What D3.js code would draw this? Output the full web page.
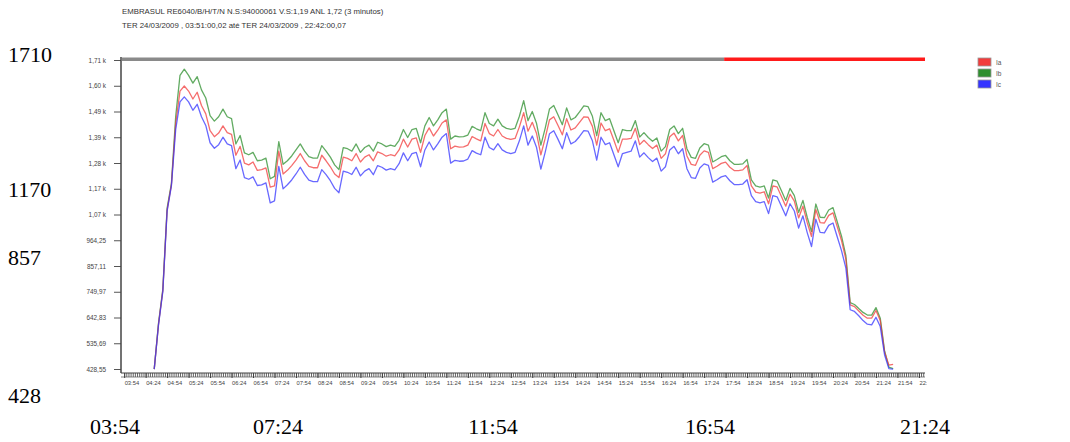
<!DOCTYPE html>
<html>
<head>
<meta charset="utf-8">
<script src="https://cdn.jsdelivr.net/npm/d3@7"></script>
<style>
body { margin: 0; background: #fff; }
</style>
</head>
<body>
<div id="chart"></div>
<script>
var titleLines = [
  "EMBRASUL RE6040/B/H/T/N N.S:94000061  V.S:1,19 ANL 1,72 (3 minutos)",
  "TER 24/03/2009 , 03:51:00,02 até TER 24/03/2009 , 22:42:00,07"
];
var seriesNames = ["Ia", "Ib", "Ic"];

// readings every 6 minutes starting 04:36
var startTime = "04:36", stepMinutes = 6;
var ib = [428,620,760,1098,1200,1480,1650,1676,1650,1618,
1645,1590,1556,1483,1460,1478,1510,1478,1470,1365,
1400,1328,1320,1330,1295,1298,1306,1220,1230,1375,
1280,1295,1315,1340,1365,1335,1312,1306,1306,1358,
1335,1310,1278,1258,1350,1345,1335,1365,1330,1350,
1360,1335,1372,1365,1354,1360,1355,1380,1425,1392,
1425,1430,1370,1440,1475,1440,1465,1495,1510,1385,
1398,1394,1395,1402,1438,1428,1420,1495,1450,1440,
1468,1440,1430,1426,1430,1480,1545,1462,1500,1450,
1360,1430,1510,1525,1485,1445,1515,1465,1475,1498,
1523,1520,1480,1400,1495,1462,1470,1420,1370,1425,
1420,1420,1462,1394,1412,1392,1376,1390,1335,1354,
1425,1440,1408,1430,1345,1309,1305,1348,1366,1360,
1290,1300,1312,1317,1295,1280,1280,1282,1300,
1215,1190,1185,1190,1140,1215,1210,1170,1130,1180,
1150,1080,1130,1060,1000,1115,1060,1058,1090,1100,
1040,980,900,705,697,680,664,653,653,684,
640,505,436,430];
var ia = [428,615,755,1090,1195,1450,1585,1606,1585,1552,
1580,1525,1490,1420,1395,1410,1440,1412,1405,1318,
1355,1285,1278,1290,1255,1258,1265,1185,1190,1335,
1240,1255,1275,1298,1325,1295,1272,1266,1266,1318,
1295,1270,1240,1225,1310,1305,1295,1325,1290,1310,
1320,1295,1332,1325,1314,1320,1315,1340,1385,1352,
1385,1390,1330,1400,1432,1398,1422,1452,1465,1345,
1356,1352,1353,1360,1396,1386,1378,1450,1408,1398,
1425,1398,1388,1384,1388,1436,1495,1418,1455,1408,
1320,1388,1465,1478,1442,1403,1470,1423,1432,1455,
1478,1476,1438,1360,1452,1420,1428,1380,1330,1385,
1385,1388,1430,1362,1380,1362,1346,1360,1305,1324,
1395,1410,1378,1400,1315,1280,1276,1318,1336,1330,
1262,1272,1284,1289,1268,1254,1254,1257,1275,
1190,1165,1160,1166,1116,1190,1186,1146,1106,1156,
1127,1057,1106,1038,980,1092,1038,1036,1068,1078,
1020,962,885,695,688,670,652,640,640,672,
630,500,445,448];
var ic = [428,612,750,1085,1190,1425,1540,1561,1540,1505,
1530,1478,1442,1370,1347,1362,1393,1365,1358,1262,
1298,1225,1218,1228,1192,1195,1203,1120,1128,1272,
1178,1195,1215,1240,1268,1238,1214,1208,1208,1258,
1237,1212,1180,1162,1252,1247,1238,1268,1232,1252,
1262,1237,1275,1268,1256,1262,1257,1283,1328,1295,
1325,1330,1270,1340,1373,1340,1365,1393,1408,1285,
1297,1293,1294,1302,1337,1327,1320,1393,1350,1340,
1366,1340,1330,1325,1330,1378,1440,1360,1398,1350,
1260,1330,1407,1420,1384,1345,1412,1365,1375,1396,
1420,1418,1378,1298,1393,1362,1370,1320,1270,1325,
1330,1335,1378,1310,1328,1308,1292,1306,1252,1270,
1340,1355,1324,1345,1262,1225,1222,1265,1282,1276,
1206,1216,1228,1233,1212,1196,1196,1198,1216,
1150,1125,1120,1125,1075,1150,1145,1106,1066,1116,
1086,1015,1066,996,938,1052,997,995,1026,1036,
978,920,848,675,668,650,630,615,612,644,
605,488,430,428];

var yTickValues = [428.55, 535.69, 642.83, 749.97, 857.11, 964.25, 1071.39,
  1178.53, 1285.67, 1392.81, 1499.95, 1607.09, 1714.23];
var yTickLabels = ["428,55", "535,69", "642,83", "749,97", "857,11", "964,25", "1,07 k",
  "1,17 k", "1,28 k", "1,39 k", "1,49 k", "1,60 k", "1,71 k"];
var xTickLabels = ["03:54","04:24","04:54","05:24","05:54","06:24","06:54","07:24","07:54",
  "08:24","08:54","09:24","09:54","10:24","10:54","11:24","11:54","12:24","12:54","13:24",
  "13:54","14:24","14:54","15:24","15:54","16:24","16:54","17:24","17:54","18:24","18:54",
  "19:24","19:54","20:24","20:54","21:24","21:54","22:24"];
var statusBreak = "17:52";
var sideLabels = [1710, 1170, 857, 428];
var bottomLabels = ["03:54", "07:24", "11:54", "16:54", "21:24"];

var W = 1070, H = 442;
var plot = {left: 122, right: 925, top: 60, bottom: 369};

function toMin(s) { var p = s.split(":"); return +p[0] * 60 + +p[1]; }

var svg = d3.select("#chart").append("svg")
  .attr("width", W).attr("height", H)
  .style("font-family", "'Liberation Sans', Arial, sans-serif");

var x = d3.scaleLinear().domain([231, 1352.5]).range([plot.left, plot.right]);
var y = d3.scaleLinear().domain([428.55, 1714.23]).range([plot.bottom, plot.top]);

// title
svg.selectAll(".title").data(titleLines).enter().append("text")
  .attr("x", 122).attr("y", function(d, i) { return 14 + i * 14; })
  .style("font-size", "7.8px").attr("fill", "#333")
  .text(function(d) { return d; });

// status bar on top of the plot
svg.append("rect").attr("x", x(231)).attr("y", 57.5)
  .attr("width", x(toMin(statusBreak)) - x(231)).attr("height", 3.5).attr("fill", "#8a8a8a");
svg.append("rect").attr("x", x(toMin(statusBreak))).attr("y", 57.5)
  .attr("width", plot.right - x(toMin(statusBreak))).attr("height", 3.5).attr("fill", "#ff1a1a");

// Y axis
var yAxis = svg.append("g")
  .attr("transform", "translate(" + (plot.left - 1) + ",0)")
  .call(d3.axisLeft(y).tickValues(yTickValues)
    .tickFormat(function(d, i) { return yTickLabels[i]; })
    .tickSize(7).tickSizeOuter(0).tickPadding(8));
yAxis.select(".domain").remove();
yAxis.selectAll(".tick line").attr("stroke", "#555");
yAxis.selectAll("text").style("font-size", "6.4px").attr("fill", "#444")
  .style("font-family", "'Liberation Sans', Arial, sans-serif");
svg.append("line").attr("x1", plot.left - 1).attr("x2", plot.left - 1)
  .attr("y1", 57).attr("y2", 373).attr("stroke", "#444").attr("stroke-width", 1.5);

// X axis: minor ticks every 3 minutes, labels every 30 minutes
var xg = svg.append("g").attr("transform", "translate(0,373)");
xg.call(d3.axisBottom(x).tickValues(d3.range(234, 1353, 3)).tickFormat("").tickSize(4).tickSizeOuter(0));
xg.select(".domain").remove();
xg.selectAll(".tick line").attr("stroke", "#555").attr("stroke-width", 0.9);
svg.append("line").attr("x1", plot.left - 1).attr("x2", plot.right)
  .attr("y1", 373).attr("y2", 373).attr("stroke", "#444").attr("stroke-width", 1.2);
svg.append("line").attr("x1", plot.left - 1).attr("x2", plot.right)
  .attr("y1", 377).attr("y2", 377).attr("stroke", "#666").attr("stroke-width", 0.8);

svg.append("clipPath").attr("id", "xclip").append("rect")
  .attr("x", plot.left).attr("y", 370).attr("width", plot.right - plot.left + 2).attr("height", 25);
var xl = svg.append("g").attr("clip-path", "url(#xclip)")
  .append("g").attr("transform", "translate(0,373)");
xl.call(d3.axisBottom(x).tickValues(xTickLabels.map(toMin))
  .tickFormat(function(d, i) { return xTickLabels[i]; })
  .tickSize(5).tickSizeOuter(0).tickPadding(3));
xl.select(".domain").remove();
xl.selectAll(".tick line").attr("stroke", "#444");
xl.selectAll("text").attr("text-anchor", "start").attr("dx", 0)
  .style("font-size", "5.8px").attr("fill", "#444")
  .style("font-family", "'Liberation Sans', Arial, sans-serif");

// lines
svg.append("clipPath").attr("id", "pclip").append("rect")
  .attr("x", plot.left).attr("y", plot.top).attr("width", plot.right - plot.left)
  .attr("height", plot.bottom - plot.top + 3);

var t0 = toMin(startTime);
var line = d3.line()
  .x(function(d, i) { return x(t0 + i * stepMinutes); })
  .y(function(d) { return y(d); });

var seriesColors = {Ia: "#f23c3c", Ib: "#2e8f2e", Ic: "#3535ff"};
var drawOrder = [["Ib", ib], ["Ia", ia], ["Ic", ic]];
svg.append("g").attr("clip-path", "url(#pclip)")
  .selectAll("path").data(drawOrder).enter().append("path")
  .attr("d", function(d) { return line(d[1]); })
  .attr("fill", "none")
  .attr("stroke", function(d) { return seriesColors[d[0]]; })
  .attr("stroke-width", 1.3)
  .attr("stroke-linejoin", "round")
  .attr("stroke-opacity", 0.75);

// legend
var lg = svg.append("g").attr("transform", "translate(978,58)");
var li = lg.selectAll("g").data(seriesNames).enter().append("g")
  .attr("transform", function(d, i) { return "translate(0," + i * 11 + ")"; });
li.append("rect").attr("width", 13).attr("height", 8)
  .attr("fill", function(d) { return seriesColors[d]; })
  .attr("stroke", "#999").attr("stroke-width", 0.8);
li.append("text").attr("x", 18).attr("y", 6.5)
  .style("font-size", "6.5px").attr("fill", "#555")
  .text(function(d) { return d; });

// large annotations
var ySide = d3.scaleLinear().domain([428, 857, 1170, 1710]).range([395, 257, 189, 54]);
svg.selectAll(".side").data(sideLabels).enter().append("text")
  .attr("x", 8).attr("y", function(d) { return ySide(d); }).attr("dy", "0.35em")
  .style("font-family", "'Liberation Serif', 'Times New Roman', serif")
  .style("font-size", "22px").attr("fill", "#000")
  .text(function(d) { return d; });

var xBottom = d3.scaleLinear().domain([234, 444, 714, 1014, 1284]).range([115, 278, 493, 710, 925]);
svg.selectAll(".bottom").data(bottomLabels).enter().append("text")
  .attr("x", function(d) { return xBottom(toMin(d)); }).attr("y", 426).attr("dy", "0.35em")
  .attr("text-anchor", "middle")
  .style("font-family", "'Liberation Serif', 'Times New Roman', serif")
  .style("font-size", "22px").attr("fill", "#000")
  .text(function(d) { return d; });
</script>
</body>
</html>
